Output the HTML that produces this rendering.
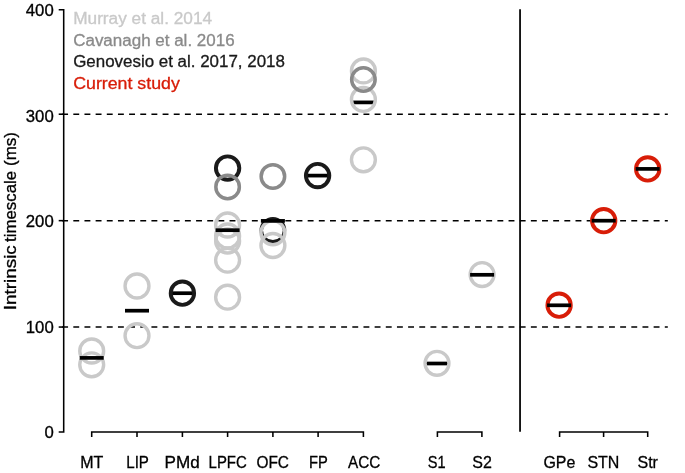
<!DOCTYPE html>
<html lang="en"><head><meta charset="utf-8"><title>Intrinsic timescale</title>
<style>html,body{margin:0;padding:0;background:#fff;}svg{display:block;}text{font-family:"Liberation Sans","DejaVu Sans",sans-serif;}</style></head><body>
<svg width="685" height="473" viewBox="0 0 685 473">
<rect width="685" height="473" fill="#fff"/>
<line x1="62.15" x2="667.8" y1="114.2" y2="114.2" stroke="#000" stroke-width="1.5" stroke-dasharray="5.9 5.26"/>
<line x1="62.15" x2="667.8" y1="220.65" y2="220.65" stroke="#000" stroke-width="1.5" stroke-dasharray="5.9 5.26"/>
<line x1="62.15" x2="667.8" y1="327.05" y2="327.05" stroke="#000" stroke-width="1.5" stroke-dasharray="5.9 5.26"/>
<path d="M58.7 9.8 H63.7 V431.9 H58.7" fill="none" stroke="#000" stroke-width="1.55"/>
<line x1="58.7" x2="63.7" y1="114.2" y2="114.2" stroke="#000" stroke-width="1.55"/>
<line x1="58.7" x2="63.7" y1="220.65" y2="220.65" stroke="#000" stroke-width="1.55"/>
<line x1="58.7" x2="63.7" y1="327.05" y2="327.05" stroke="#000" stroke-width="1.55"/>
<line x1="520.05" x2="520.05" y1="9.3" y2="431.8" stroke="#000" stroke-width="1.75"/>
<path d="M91.7 436.9 V431.9 H363.4 V436.9 M137.0 431.9 V436.9 M182.4 431.9 V436.9 M227.6 431.9 V436.9 M272.9 431.9 V436.9 M318.1 431.9 V436.9" fill="none" stroke="#000" stroke-width="1.55"/>
<path d="M437.4 436.9 V431.9 H481.9 V436.9" fill="none" stroke="#000" stroke-width="1.55"/>
<path d="M559.6 436.9 V431.9 H647.7 V436.9 M603.6 431.9 V436.9" fill="none" stroke="#000" stroke-width="1.55"/>
<text x="80.15" y="467.7" font-size="16.6" fill="#000" stroke="#000" stroke-width="0.3" textLength="23.1" lengthAdjust="spacingAndGlyphs">MT</text>
<text x="126.25" y="467.7" font-size="16.6" fill="#000" stroke="#000" stroke-width="0.3" textLength="22.7" lengthAdjust="spacingAndGlyphs">LIP</text>
<text x="164.50" y="467.7" font-size="16.6" fill="#000" stroke="#000" stroke-width="0.3" textLength="35.2" lengthAdjust="spacingAndGlyphs">PMd</text>
<text x="208.60" y="468.0" font-size="16.6" fill="#000" stroke="#000" stroke-width="0.3" textLength="38.2" lengthAdjust="spacingAndGlyphs">LPFC</text>
<text x="256.45" y="468.0" font-size="16.6" fill="#000" stroke="#000" stroke-width="0.3" textLength="32.5" lengthAdjust="spacingAndGlyphs">OFC</text>
<text x="309.10" y="467.9" font-size="16.6" fill="#000" stroke="#000" stroke-width="0.3" textLength="18.8" lengthAdjust="spacingAndGlyphs">FP</text>
<text x="347.95" y="467.9" font-size="16.6" fill="#000" stroke="#000" stroke-width="0.3" textLength="32.3" lengthAdjust="spacingAndGlyphs">ACC</text>
<text x="427.70" y="467.7" font-size="16.6" fill="#000" stroke="#000" stroke-width="0.3" textLength="17.8" lengthAdjust="spacingAndGlyphs">S1</text>
<text x="472.31" y="467.7" font-size="16.6" fill="#000" stroke="#000" stroke-width="0.3" textLength="19.57" lengthAdjust="spacingAndGlyphs">S2</text>
<text x="543.40" y="468.0" font-size="16.6" fill="#000" stroke="#000" stroke-width="0.3" textLength="32.0" lengthAdjust="spacingAndGlyphs">GPe</text>
<text x="587.40" y="467.7" font-size="16.6" fill="#000" stroke="#000" stroke-width="0.3" textLength="32.0" lengthAdjust="spacingAndGlyphs">STN</text>
<text x="637.48" y="467.8" font-size="16.6" fill="#000" stroke="#000" stroke-width="0.3" textLength="20.45" lengthAdjust="spacingAndGlyphs">Str</text>
<text x="25.8" y="15.6" font-size="16" fill="#000" stroke="#000" stroke-width="0.3" textLength="27.9" lengthAdjust="spacingAndGlyphs">400</text>
<text x="25.8" y="122.2" font-size="16" fill="#000" stroke="#000" stroke-width="0.3" textLength="27.9" lengthAdjust="spacingAndGlyphs">300</text>
<text x="25.8" y="227.0" font-size="16" fill="#000" stroke="#000" stroke-width="0.3" textLength="27.9" lengthAdjust="spacingAndGlyphs">200</text>
<text x="25.8" y="333.3" font-size="16" fill="#000" stroke="#000" stroke-width="0.3" textLength="27.9" lengthAdjust="spacingAndGlyphs">100</text>
<text x="44.4" y="437.7" font-size="16" fill="#000" stroke="#000" stroke-width="0.3" textLength="9.3" lengthAdjust="spacingAndGlyphs">0</text>
<text transform="translate(16 310.2) rotate(-90)" font-size="16" fill="#000" stroke="#000" stroke-width="0.3" textLength="65.0" lengthAdjust="spacingAndGlyphs">Intrinsic</text>
<text transform="translate(16 241.9) rotate(-90)" font-size="16" fill="#000" stroke="#000" stroke-width="0.3" textLength="71.0" lengthAdjust="spacingAndGlyphs">timescale</text>
<text transform="translate(16 166.0) rotate(-90)" font-size="16" fill="#000" stroke="#000" stroke-width="0.3" textLength="34.0" lengthAdjust="spacingAndGlyphs">(ms)</text>
<text x="73.2" y="23.8" font-size="16" fill="#c9c9c9" stroke="#c9c9c9" stroke-width="0.3" textLength="138.9" lengthAdjust="spacingAndGlyphs">Murray et al. 2014</text>
<text x="73.2" y="46.1" font-size="16" fill="#8a8a8a" stroke="#8a8a8a" stroke-width="0.3" textLength="161.4" lengthAdjust="spacingAndGlyphs">Cavanagh et al. 2016</text>
<text x="73.2" y="67.0" font-size="16" fill="#1a1a1a" stroke="#1a1a1a" stroke-width="0.3" textLength="211.7" lengthAdjust="spacingAndGlyphs">Genovesio et al. 2017, 2018</text>
<text x="73.2" y="88.6" font-size="16" fill="#d81d08" stroke="#d81d08" stroke-width="0.3" textLength="106.6" lengthAdjust="spacingAndGlyphs">Current study</text>
<circle cx="91.7" cy="351" r="11.95" fill="none" stroke="#c9c9c9" stroke-width="3.4"/>
<circle cx="91.7" cy="364.8" r="11.95" fill="none" stroke="#c9c9c9" stroke-width="3.4"/>
<rect x="79.7" y="356.04999999999995" width="24" height="3.7" fill="#000"/>
<circle cx="137.0" cy="286" r="11.95" fill="none" stroke="#c9c9c9" stroke-width="3.4"/>
<circle cx="137.0" cy="335.7" r="11.95" fill="none" stroke="#c9c9c9" stroke-width="3.4"/>
<rect x="125.0" y="308.84999999999997" width="24" height="3.7" fill="#000"/>
<rect x="170.4" y="291.34999999999997" width="24" height="3.7" fill="#000"/>
<circle cx="182.4" cy="293.2" r="11.7" fill="none" stroke="#1a1a1a" stroke-width="3.9"/>
<circle cx="227.6" cy="168.1" r="11.7" fill="none" stroke="#1a1a1a" stroke-width="3.9"/>
<circle cx="227.6" cy="186.9" r="11.75" fill="none" stroke="#8a8a8a" stroke-width="3.5"/>
<circle cx="227.6" cy="225" r="11.95" fill="none" stroke="#c9c9c9" stroke-width="3.4"/>
<circle cx="227.6" cy="236" r="11.95" fill="none" stroke="#c9c9c9" stroke-width="3.4"/>
<circle cx="227.6" cy="241" r="11.95" fill="none" stroke="#c9c9c9" stroke-width="3.4"/>
<circle cx="227.6" cy="260.2" r="11.95" fill="none" stroke="#c9c9c9" stroke-width="3.4"/>
<circle cx="227.6" cy="297.2" r="11.95" fill="none" stroke="#c9c9c9" stroke-width="3.4"/>
<rect x="215.6" y="228.35" width="24" height="3.7" fill="#000"/>
<circle cx="272.9" cy="230.2" r="11.6" fill="none" stroke="#1a1a1a" stroke-width="3.4"/>
<circle cx="272.9" cy="176.4" r="11.75" fill="none" stroke="#8a8a8a" stroke-width="3.5"/>
<circle cx="272.9" cy="232.8" r="11.95" fill="none" stroke="#c9c9c9" stroke-width="3.4"/>
<circle cx="272.9" cy="245.5" r="11.95" fill="none" stroke="#c9c9c9" stroke-width="3.4"/>
<rect x="260.9" y="219.05" width="24" height="3.7" fill="#000"/>
<rect x="305.6" y="173.75" width="24" height="3.7" fill="#000"/>
<circle cx="317.6" cy="175.6" r="11.7" fill="none" stroke="#1a1a1a" stroke-width="3.9"/>
<circle cx="363.4" cy="70.9" r="11.95" fill="none" stroke="#c9c9c9" stroke-width="3.4"/>
<rect x="351.4" y="100.55000000000001" width="24" height="3.7" fill="#000"/>
<circle cx="363.4" cy="99.4" r="11.95" fill="none" stroke="#c9c9c9" stroke-width="3.4"/>
<circle cx="363.4" cy="159.8" r="11.95" fill="none" stroke="#c9c9c9" stroke-width="3.4"/>
<circle cx="363.4" cy="79.5" r="11.75" fill="none" stroke="#8a8a8a" stroke-width="3.5"/>
<rect x="425.0" y="361.65" width="24" height="3.7" fill="#000"/>
<circle cx="437.0" cy="363.3" r="11.95" fill="none" stroke="#c9c9c9" stroke-width="3.4"/>
<circle cx="482.1" cy="274.6" r="11.95" fill="none" stroke="#c9c9c9" stroke-width="3.4"/>
<rect x="470.1" y="272.95" width="24" height="3.7" fill="#000"/>
<circle cx="559.1" cy="305.2" r="11.7" fill="none" stroke="#d81d08" stroke-width="3.9"/>
<rect x="547.1" y="303.45" width="24" height="3.7" fill="#000"/>
<circle cx="603.7" cy="220.7" r="11.7" fill="none" stroke="#d81d08" stroke-width="3.9"/>
<rect x="591.7" y="218.85" width="24" height="3.7" fill="#000"/>
<circle cx="647.7" cy="168.9" r="11.7" fill="none" stroke="#d81d08" stroke-width="3.9"/>
<rect x="635.7" y="167.05" width="24" height="3.7" fill="#000"/>
</svg></body></html>
